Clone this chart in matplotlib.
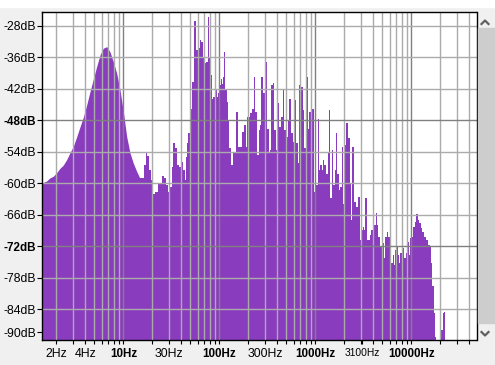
import matplotlib
matplotlib.use('Agg')
import matplotlib.pyplot as plt
from matplotlib.patches import Rectangle
from matplotlib.lines import Line2D
from matplotlib.ticker import NullFormatter

plt.rcParams['font.family'] = ['Liberation Sans', 'DejaVu Sans']

# spectrum: frequency (Hz) and level (dB)
freq_hz = [
    1.43, 1.46, 1.585, 1.72, 1.86, 2.02, 2.18, 2.36, 2.57, 2.78,
    3.01, 3.26, 3.53, 3.82, 4.15, 4.49, 4.86, 5.27, 5.71, 6.18,
    6.71, 7.26, 7.87, 8.53, 9.24, 10.0, 10.85, 11.75, 12.7, 13.8,
    14.9, 15.9, 16.85, 17.5, 18.2, 19.0, 19.8, 20.6, 21.9, 24.2,
    26.2, 27.2, 28.8, 30.2, 31.3, 32.5, 34.0, 35.5, 37.0, 38.4,
    40.7, 43.0, 44.1, 45.9, 47.0, 48.2, 50.9, 53.4, 56.0, 58.8,
    61.7, 63.7, 65.8, 68.4, 71.3, 74.8, 77.1, 79.8, 82.3, 84.9,
    89.1, 92.2, 95.1, 98.1, 101.4, 104.7, 108, 111.7, 114.3, 117.2,
    121, 124.7, 129, 135.4, 140.6, 146.6, 153.8, 158.6, 166.4, 174.6,
    183.2, 192.2, 201.6, 211.6, 222, 232.8, 240.9, 252.8, 261, 269,
    278.4, 292.1, 308.8, 321.4, 331.9, 339.8, 354, 368, 383.3, 399,
    415, 432.5, 450, 467.7, 487.5, 507.6, 527.5, 549.5, 572.8, 595,
    619.4, 645.7, 671.4, 699, 728, 756.8, 788, 820.5, 853, 889,
    926, 948, 979, 1009, 1044, 1070, 1104, 1150, 1186, 1224,
    1275, 1328, 1380, 1413, 1462, 1508, 1556, 1622, 1673, 1730,
    1797, 1858, 1905, 1980, 2061, 2127, 2232, 2325, 2382, 2487,
    2622, 2732, 2850, 2957, 3080, 3155, 3254, 3390, 3473, 3606,
    3758, 3917, 4009, 4169, 4345, 4478, 4634, 4781, 4979, 5176,
    5302, 5483, 5697, 5890, 6081, 6335, 6486, 6694, 6902, 7145,
    7369, 7603, 7863, 8110, 8373, 8657, 8930, 9305, 9530, 9834,
    10240, 10640, 11090, 11550, 11910, 12300, 12810, 13340, 14100, 14690,
    15280, 15910, 16410, 16980, 17500, 18070, 18500, 19980, 20230, 20870,
    21580, 22260, 22800, 48000,
]
level_db = [
    -60.0, -59.9, -59.6, -59.0, -58.7, -58.0, -57.2, -56.6, -55.5, -54.2,
    -53.0, -51.2, -49.3, -47.5, -45.1, -42.6, -40.2, -37.8, -35.6, -34.3,
    -34.0, -35.0, -36.9, -39.1, -42.3, -46.4, -51.2, -54.3, -56.2, -57.8,
    -59.1, -59.1, -56.6, -54.3, -54.9, -57.5, -59.4, -62.0, -61.7, -60.1,
    -58.7, -59.1, -60.4, -61.7, -60.7, -56.9, -52.4, -53.4, -56.6, -56.9,
    -55.9, -57.5, -59.5, -55.0, -52.4, -50.5, -45.8, -40.7, -29.2, -34.7,
    -34.3, -32.8, -33.1, -35.9, -37.2, -36.9, -28.4, -35.9, -39.4, -43.9,
    -43.6, -42.3, -43.6, -42.9, -41.3, -40.1, -41.1, -39.8, -35.0, -42.3,
    -44.5, -48.0, -53.4, -56.6, -54.0, -54.3, -46.4, -53.1, -53.1, -50.2,
    -49.0, -53.1, -47.4, -46.7, -45.8, -39.8, -46.4, -54.7, -49.9, -49.0,
    -39.8, -42.9, -36.9, -49.6, -54.0, -53.7, -41.3, -41.0, -49.9, -53.7,
    -44.8, -49.3, -47.4, -42.3, -49.9, -51.2, -48.0, -43.9, -50.5, -52.1,
    -44.2, -52.4, -56.2, -41.3, -41.6, -46.1, -53.4, -39.8, -49.6, -46.4,
    -47.4, -45.8, -61.7, -55.9, -60.4, -47.7, -57.5, -56.6, -57.5, -55.6,
    -56.6, -58.2, -54.3, -46.1, -62.9, -53.7, -60.4, -57.5, -50.5, -58.2,
    -61.3, -60.7, -53.1, -63.9, -52.8, -48.6, -51.5, -60.1, -67.0, -53.1,
    -63.6, -64.5, -62.6, -70.9, -69.0, -68.4, -69.0, -62.9, -70.9, -70.9,
    -69.9, -69.0, -71.5, -68.0, -65.7, -68.0, -70.2, -72.1, -72.1, -71.5,
    -74.3, -70.2, -69.3, -70.2, -74.3, -75.3, -73.7, -75.6, -72.8, -72.0,
    -73.7, -75.3, -73.4, -73.1, -72.4, -74.3, -73.4, -71.2, -73.7, -70.5,
    -70.2, -68.3, -67.4, -65.8, -67.0, -67.7, -68.6, -69.3, -70.2, -70.9,
    -71.8, -72.1, -75.3, -79.7, -84.8, -89.3, -100, -100, -87.7, -88.0,
    -84.8, -84.5, -100, -100,
]
assert len(freq_hz) == len(level_db)
SMOOTH_END = 31  # the low, smooth hump (up to ~16 Hz) is drawn unstepped

y_ticks = [-30, -36, -42, -48, -54, -60, -66, -72, -78, -84, -88.4]
y_labels = ['-28dB', '-36dB', '-42dB', '-48dB', '-54dB', '-60dB',
            '-66dB', '-72dB', '-78dB', '-84dB', '-90dB']
y_bold = ['-48dB', '-72dB']
x_ticks = [2, 4, 10, 30, 100, 300, 1000, 3100, 10000]
x_labels = ['2Hz', '4Hz', '10Hz', '30Hz', '100Hz', '300Hz', '1000Hz',
            '3100Hz', '10000Hz']
x_bold = ['10Hz', '100Hz', '1000Hz', '10000Hz']

W, H = 495, 365
PURPLE = '#8a3cbe'
LIGHT = '#ababab'
DARK = '#808080'

fig = plt.figure(figsize=(W / 100, H / 100), dpi=100, facecolor='#f0f0f0')
ax = fig.add_axes([42.3 / W, 1 - 340 / H, (476.5 - 42.3) / W, 328 / H])
ax.set_xscale('log')
ax.set_xlim(1.43, 48000)
ax.set_ylim(-89.9, -27.4)

ax.fill_between(freq_hz[:SMOOTH_END], level_db[:SMOOTH_END], -100,
                color=PURPLE, linewidth=0, zorder=1)
ax.fill_between(freq_hz[SMOOTH_END - 1:], level_db[SMOOTH_END - 1:], -100,
                step='mid', color=PURPLE, linewidth=0, zorder=1)

# grid on top of the spectrum, darker lines at decades / every 24 dB
grid_x = []
for dec in [1, 10, 100, 1000, 10000]:
    for k in range(1, 10):
        f = k * dec
        if 1.43 < f < 48000:
            grid_x.append(f)
            ax.axvline(f, color=DARK if k == 1 else LIGHT, lw=1.0, zorder=2)
for v in range(-30, -85, -6):
    ax.axhline(v, color=DARK if v in (-48, -72) else LIGHT, lw=1.0, zorder=2)

ax.set_xticks(grid_x, minor=True)
ax.xaxis.set_minor_formatter(NullFormatter())
ax.set_xticks(x_ticks, x_labels)
ax.set_yticks(y_ticks, y_labels)
ax.yaxis.set_minor_locator(plt.NullLocator())
ax.tick_params(axis='x', which='both', direction='out', length=3, width=0.8,
               pad=2.5, labelsize=8.8, colors='black')
ax.tick_params(axis='y', direction='out', length=3.5, width=0.8, pad=1,
               labelsize=8.8, colors='black')
for t in ax.get_xticklabels():
    if t.get_text() in x_bold:
        t.set_fontweight('bold')
        t.set_fontsize(8.4)
    elif t.get_text() == '3100Hz':
        t.set_fontsize(7.4)
for t in ax.get_yticklabels():
    if t.get_text() in y_bold:
        t.set_fontweight('bold')
        t.set_fontsize(8.4)

for s in ax.spines.values():
    s.set_color('black')
    s.set_linewidth(1.0)
    s.set_zorder(3)

# window chrome: white strip on top, scrollbar on the right
fig.patches.append(Rectangle((0, 1 - 7 / H), 1, 7 / H, transform=fig.transFigure,
                             color='white', zorder=0))
fig.patches.append(Rectangle((478 / W, 1 - 323 / H), 17 / W, (323 - 28) / H,
                             transform=fig.transFigure, color='#cdcdcd', zorder=0))
for pts in ([(481.5, 24), (485, 20.5), (488.5, 24)],
            [(481.5, 332), (485, 335.5), (488.5, 332)]):
    fig.lines.append(Line2D([p[0] / W for p in pts], [1 - p[1] / H for p in pts],
                            transform=fig.transFigure, color='#606060', lw=1.6))

fig.savefig('out.png', dpi=100, facecolor=fig.get_facecolor())
